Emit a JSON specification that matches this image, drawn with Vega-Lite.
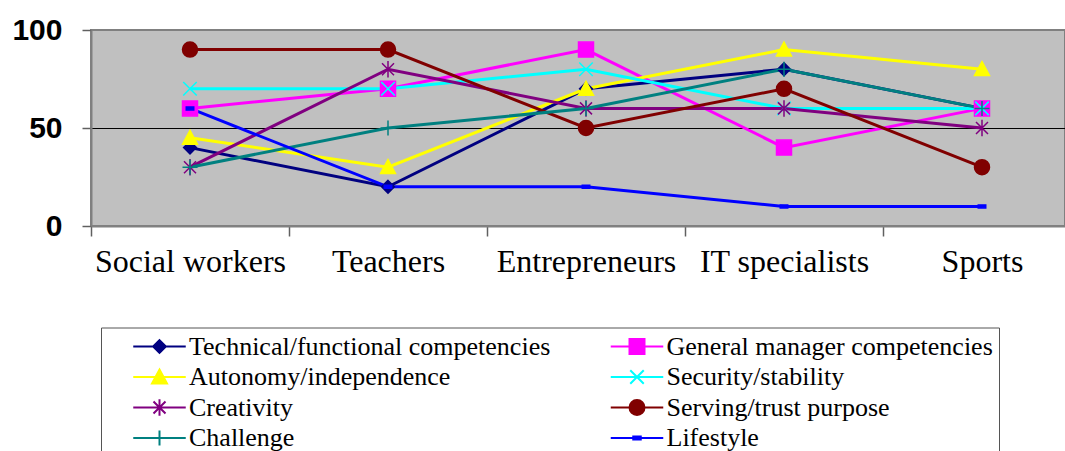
{
  "$schema": "https://vega.github.io/schema/vega-lite/v6.json",
  "width": 974,
  "height": 196,
  "autosize": {"type": "none"},
  "padding": {"left": 91, "top": 30, "right": 0, "bottom": 225},
  "background": "white",
  "config": {
    "view": {"fill": "#c0c0c0", "stroke": "#808080", "strokeWidth": 2}
  },
  "data": {
    "values": [
      {"group": "Social workers", "series": "Technical/functional competencies", "value": 40},
      {"group": "Teachers", "series": "Technical/functional competencies", "value": 20},
      {"group": "Entrepreneurs", "series": "Technical/functional competencies", "value": 70},
      {"group": "IT specialists", "series": "Technical/functional competencies", "value": 80},
      {"group": "Sports", "series": "Technical/functional competencies", "value": 60},
      {"group": "Social workers", "series": "General manager competencies", "value": 60},
      {"group": "Teachers", "series": "General manager competencies", "value": 70},
      {"group": "Entrepreneurs", "series": "General manager competencies", "value": 90},
      {"group": "IT specialists", "series": "General manager competencies", "value": 40},
      {"group": "Sports", "series": "General manager competencies", "value": 60},
      {"group": "Social workers", "series": "Autonomy/independence", "value": 45},
      {"group": "Teachers", "series": "Autonomy/independence", "value": 30},
      {"group": "Entrepreneurs", "series": "Autonomy/independence", "value": 70},
      {"group": "IT specialists", "series": "Autonomy/independence", "value": 90},
      {"group": "Sports", "series": "Autonomy/independence", "value": 80},
      {"group": "Social workers", "series": "Security/stability", "value": 70},
      {"group": "Teachers", "series": "Security/stability", "value": 70},
      {"group": "Entrepreneurs", "series": "Security/stability", "value": 80},
      {"group": "IT specialists", "series": "Security/stability", "value": 60},
      {"group": "Sports", "series": "Security/stability", "value": 60},
      {"group": "Social workers", "series": "Creativity", "value": 30},
      {"group": "Teachers", "series": "Creativity", "value": 80},
      {"group": "Entrepreneurs", "series": "Creativity", "value": 60},
      {"group": "IT specialists", "series": "Creativity", "value": 60},
      {"group": "Sports", "series": "Creativity", "value": 50},
      {"group": "Social workers", "series": "Serving/trust purpose", "value": 90},
      {"group": "Teachers", "series": "Serving/trust purpose", "value": 90},
      {"group": "Entrepreneurs", "series": "Serving/trust purpose", "value": 50},
      {"group": "IT specialists", "series": "Serving/trust purpose", "value": 70},
      {"group": "Sports", "series": "Serving/trust purpose", "value": 30},
      {"group": "Social workers", "series": "Challenge", "value": 30},
      {"group": "Teachers", "series": "Challenge", "value": 50},
      {"group": "Entrepreneurs", "series": "Challenge", "value": 60},
      {"group": "IT specialists", "series": "Challenge", "value": 80},
      {"group": "Sports", "series": "Challenge", "value": 60},
      {"group": "Social workers", "series": "Lifestyle", "value": 60},
      {"group": "Teachers", "series": "Lifestyle", "value": 20},
      {"group": "Entrepreneurs", "series": "Lifestyle", "value": 20},
      {"group": "IT specialists", "series": "Lifestyle", "value": 10},
      {"group": "Sports", "series": "Lifestyle", "value": 10}
    ]
  },
  "encoding": {
    "x": {
      "field": "group",
      "type": "nominal",
      "sort": ["Social workers", "Teachers", "Entrepreneurs", "IT specialists", "Sports"],
      "scale": {"type": "band", "paddingInner": 0, "paddingOuter": 0, "range": [0, 990]},
      "axis": {
        "title": null,
        "labelAngle": 0,
        "tickBand": "extent",
        "tickSize": 10,
        "tickColor": "#606060",
        "tickWidth": 1.5,
        "domainColor": "#808080",
        "domainWidth": 2,
        "labelFont": "Liberation Serif",
        "labelFontSize": 32,
        "labelColor": "black",
        "labelPadding": 10,
        "labelLimit": 400,
        "grid": false
      }
    },
    "y": {
      "field": "value",
      "type": "quantitative",
      "scale": {"domain": [0, 100], "nice": false, "zero": true},
      "axis": {
        "title": null,
        "values": [0, 50, 100],
        "tickSize": 9,
        "tickColor": "#606060",
        "tickWidth": 1.5,
        "domainColor": "#808080",
        "domainWidth": 2,
        "labelFont": "Liberation Sans",
        "labelFontWeight": "bold",
        "labelFontSize": 30,
        "labelColor": "black",
        "labelPadding": 20,
        "grid": true,
        "gridColor": {"condition": {"test": "datum.value === 50", "value": "black"}, "value": "transparent"},
        "gridWidth": 1
      }
    }
  },
  "resolve": {
    "scale": {"shape": "independent", "color": "independent", "stroke": "independent"},
    "legend": {"shape": "independent", "color": "independent", "stroke": "independent"}
  },
  "layer": [
    {
      "mark": {"type": "line", "strokeWidth": 3},
      "encoding": {
        "color": {
          "field": "series",
          "type": "nominal",
          "scale": {
            "domain": ["Technical/functional competencies", "General manager competencies", "Autonomy/independence", "Security/stability", "Creativity", "Serving/trust purpose", "Challenge", "Lifestyle"],
            "range": ["#000080", "#ff00ff", "#ffff00", "#00ffff", "#800080", "#800000", "#008080", "#0000ff"]
          },
          "legend": null
        }
      }
    },
    {
      "mark": {"type": "point", "filled": true, "size": 225, "strokeWidth": 1.5, "opacity": 1},
      "encoding": {
        "color": {
          "field": "series",
          "type": "nominal",
          "scale": {
            "domain": ["Technical/functional competencies", "General manager competencies", "Autonomy/independence", "Security/stability", "Creativity", "Serving/trust purpose", "Challenge", "Lifestyle"],
            "range": ["#000080", "#ff00ff", "#ffff00", "#00ffff", "#800080", "#800000", "#008080", "#0000ff"]
          },
          "legend": null
        },
        "shape": {
          "field": "series",
          "type": "nominal",
          "legend": null,
          "scale": {
            "domain": ["Technical/functional competencies", "General manager competencies", "Autonomy/independence", "Security/stability", "Creativity", "Serving/trust purpose", "Challenge", "Lifestyle"],
            "range": [
              "M0,-0.85L0.85,0L0,0.85L-0.85,0Z",
              "M-1,-1L1,-1L1,1L-1,1Z",
              "M0,-1L1,0.85L-1,0.85Z",
              "M-0.9,-0.9L0.9,0.9M-0.9,0.9L0.9,-0.9",
              "M-0.8,-0.8L0.8,0.8M-0.8,0.8L0.8,-0.8M0,-1.1L0,1.1",
              "M-1,0A1,1 0 1,0 1,0A1,1 0 1,0 -1,0Z",
              "M-1,0L1,0M0,-1L0,1",
              "M-0.5,-0.2L0.5,-0.2L0.5,0.2L-0.5,0.2Z"
            ]
          }
        },
        "stroke": {
          "field": "series",
          "type": "nominal",
          "scale": {
            "domain": ["Technical/functional competencies", "General manager competencies", "Autonomy/independence", "Security/stability", "Creativity", "Serving/trust purpose", "Challenge", "Lifestyle"],
            "range": ["#000080", "#ff00ff", "#ffff00", "#00ffff", "#800080", "#800000", "#008080", "#0000ff"]
          },
          "legend": null
        }
      }
    },
    {
      "transform": [{"filter": "datum.value < 0"}],
      "mark": {"type": "point", "filled": true, "size": 225, "strokeWidth": 2, "opacity": 1},
      "encoding": {
        "color": {
          "field": "series",
          "type": "nominal",
          "scale": {
            "domain": ["Technical/functional competencies", "General manager competencies", "Autonomy/independence", "Security/stability", "Creativity", "Serving/trust purpose", "Challenge", "Lifestyle"],
            "range": ["#000080", "#ff00ff", "#ffff00", "#00ffff", "#800080", "#800000", "#008080", "#0000ff"]
          },
          "legend": {
            "orient": "none",
            "legendX": 10,
            "legendY": 297.5,
            "title": null,
            "columns": 2,
            "direction": "horizontal",
            "padding": 6,
            "strokeColor": "#555555",
            "fillColor": "white",
            "symbolSize": 225,
            "symbolStrokeWidth": 2,
            "symbolOpacity": 1,
            "symbolOffset": 39.5,
            "labelOffset": 16.5,
            "columnPadding": 33.5,
            "rowPadding": 4.5,
            "labelFont": "Liberation Serif",
            "labelFontSize": 26,
            "labelColor": "black",
            "labelLimit": 600
          }
        },
        "stroke": {
          "field": "series",
          "type": "nominal",
          "scale": {
            "domain": ["Technical/functional competencies", "General manager competencies", "Autonomy/independence", "Security/stability", "Creativity", "Serving/trust purpose", "Challenge", "Lifestyle"],
            "range": ["#000080", "#ff00ff", "#ffff00", "#00ffff", "#800080", "#800000", "#008080", "#0000ff"]
          },
          "legend": {
            "orient": "none",
            "legendX": 10,
            "legendY": 297.5,
            "title": null,
            "columns": 2,
            "direction": "horizontal",
            "padding": 6,
            "strokeColor": "#555555",
            "fillColor": "white",
            "symbolSize": 225,
            "symbolStrokeWidth": 2,
            "symbolOpacity": 1,
            "symbolOffset": 39.5,
            "labelOffset": 16.5,
            "columnPadding": 33.5,
            "rowPadding": 4.5,
            "labelFont": "Liberation Serif",
            "labelFontSize": 26,
            "labelColor": "black",
            "labelLimit": 600
          }
        },
        "shape": {
          "field": "series",
          "type": "nominal",
          "scale": {
            "domain": ["Technical/functional competencies", "General manager competencies", "Autonomy/independence", "Security/stability", "Creativity", "Serving/trust purpose", "Challenge", "Lifestyle"],
            "range": [
              "M0,-0.85L0.85,0L0,0.85L-0.85,0ZM-3.5,0L3.5,0",
              "M-1,-1L1,-1L1,1L-1,1ZM-3.5,0L3.5,0",
              "M0,-1L1,0.85L-1,0.85ZM-3.5,0L3.5,0",
              "M-0.9,-0.9L0.9,0.9M-0.9,0.9L0.9,-0.9M-3.5,0L3.5,0",
              "M-0.8,-0.8L0.8,0.8M-0.8,0.8L0.8,-0.8M0,-1.1L0,1.1M-3.5,0L3.5,0",
              "M-1,0A1,1 0 1,0 1,0A1,1 0 1,0 -1,0ZM-3.5,0L3.5,0",
              "M-1,0L1,0M0,-1L0,1M-3.5,0L3.5,0",
              "M-0.5,-0.2L0.5,-0.2L0.5,0.2L-0.5,0.2ZM-3.5,0L3.5,0"
            ]
          },
          "legend": {
            "orient": "none",
            "legendX": 10,
            "legendY": 297.5,
            "title": null,
            "columns": 2,
            "direction": "horizontal",
            "padding": 6,
            "strokeColor": "#555555",
            "fillColor": "white",
            "symbolSize": 225,
            "symbolStrokeWidth": 2,
            "symbolOpacity": 1,
            "symbolOffset": 39.5,
            "labelOffset": 16.5,
            "columnPadding": 33.5,
            "rowPadding": 4.5,
            "labelFont": "Liberation Serif",
            "labelFontSize": 26,
            "labelColor": "black",
            "labelLimit": 600
          }
        }
      }
    }
  ]
}
